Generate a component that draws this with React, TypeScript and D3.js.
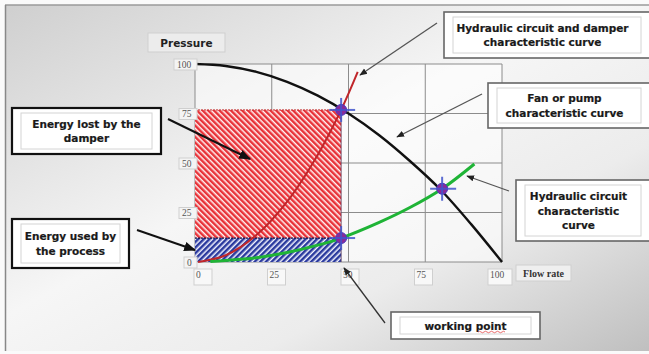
import React from "react";
import * as d3 from "d3";

const W = 649;
const H = 354;

const xTicks = [0, 25, 50, 75, 100];
const yTicks = [0, 25, 50, 75, 100];

// Fan or pump characteristic curve (flow, pressure)
const fanFlow = [0, 10, 20, 30, 40, 50, 60, 70, 80, 90, 100];
const fanPressure = [100, 99, 96, 91, 84, 75, 64, 51, 36.5, 19, 0];

// Hydraulic circuit + damper characteristic curve
const damperFlow = [1, 10, 20, 30, 40, 47.6, 53];
const damperPressure = [0, 3.4, 13.6, 30.5, 54.2, 76.8, 96];

// Hydraulic circuit characteristic curve
const circuitFlow = [5, 20, 30, 40, 47.6, 60, 70, 80.5, 91];
const circuitPressure = [0.2, 2.2, 4.8, 8.5, 12.1, 20, 27.5, 37, 49.5];

// Working points
const pointFlow = [47.6, 47.6, 80.5];
const pointPressure = [76.8, 12.1, 37];

// Energy rectangles
const opFlow = 47.6;
const dampedPressure = 76.8;
const processPressure = 12.1;

type Box = {
  lines: string[];
  x0: number; y0: number; x1: number; y1: number;
  dark: boolean;
};

const boxes: Box[] = [
  { lines: ["Hydraulic circuit and damper", "characteristic curve"], x0: 444, y0: 12, x1: 652, y1: 58, dark: false },
  { lines: ["Fan or pump", "characteristic curve"], x0: 488, y0: 83, x1: 652, y1: 128, dark: false },
  { lines: ["Hydraulic circuit", "characteristic", "curve"], x0: 516, y0: 180, x1: 652, y1: 241, dark: false },
  { lines: ["Energy lost by the", "damper"], x0: 12, y0: 108, x1: 161, y1: 154, dark: true },
  { lines: ["Energy used by", "the process"], x0: 12, y0: 219, x1: 129, y1: 268, dark: true },
  { lines: ["working point"], x0: 391, y0: 312, x1: 540, y1: 339, dark: false },
];

type Arrow = { from: [number, number]; to: [number, number]; color: string };
const arrows: Arrow[] = [
  { from: [437, 23], to: [360, 75], color: "#555" },
  { from: [482, 94], to: [397, 137], color: "#555" },
  { from: [509, 191], to: [467, 176], color: "#555" },
  { from: [168, 119], to: [250, 159], color: "#111" },
  { from: [137, 230], to: [195, 250], color: "#111" },
  { from: [385, 323], to: [344, 268], color: "#333" },
];

export default function App() {
  const x = d3.scaleLinear().domain([0, 100]).range([195, 502]);
  const y = d3.scaleLinear().domain([0, 100]).range([262, 64]);
  const xLabel = d3.scaleLinear().domain([0, 100]).range([194, 488]);

  const line = d3
    .line<[number, number]>()
    .x((d) => x(d[0]))
    .y((d) => y(d[1]))
    .curve(d3.curveCatmullRom.alpha(0.5));

  const fan = line(fanFlow.map((f, i) => [f, fanPressure[i]] as [number, number]));
  const damper = line(damperFlow.map((f, i) => [f, damperPressure[i]] as [number, number]));
  const circuit = line(circuitFlow.map((f, i) => [f, circuitPressure[i]] as [number, number]));

  const font = "'DejaVu Sans', Verdana, sans-serif";
  const serif = "'Liberation Serif', 'Times New Roman', serif";

  return (
    <svg
      width={W}
      height={H}
      style={{ position: "absolute", left: 0, top: 0 }}
      xmlns="http://www.w3.org/2000/svg"
    >
      <defs>
        <linearGradient id="bg" x1="0" y1="0" x2="1" y2="1">
          <stop offset="0" stopColor="#cfcfcf" />
          <stop offset="0.45" stopColor="#f6f6f6" />
          <stop offset="0.7" stopColor="#ececec" />
          <stop offset="1" stopColor="#bfbfbf" />
        </linearGradient>
        <pattern id="redHatch" width="4" height="4" patternUnits="userSpaceOnUse" patternTransform="rotate(-45)">
          <rect width="4" height="4" fill="#fff4f4" />
          <rect width="2.5" height="4" fill="#e83238" />
        </pattern>
        <pattern id="blueHatch" width="4" height="4" patternUnits="userSpaceOnUse" patternTransform="rotate(45)">
          <rect width="4" height="4" fill="#f4f4ff" />
          <rect width="2.5" height="4" fill="#2a3a9e" />
        </pattern>
        <marker id="ahBlack" viewBox="0 0 10 10" refX="9" refY="5" markerWidth="6" markerHeight="6" orient="auto">
          <path d="M0,1 L10,5 L0,9 z" fill="#111" />
        </marker>
        <marker id="ahGray" viewBox="0 0 10 10" refX="9" refY="5" markerWidth="6" markerHeight="6" orient="auto">
          <path d="M0,1 L10,5 L0,9 z" fill="#222" />
        </marker>
      </defs>

      <rect x={0} y={0} width={W} height={H} fill="#fafafa" />
      <rect x={5} y={5} width={W - 4} height={H - 8} fill="url(#bg)" />
      <line x1={5} y1={5} x2={W} y2={5} stroke="#9a9a9a" strokeWidth={1.5} />
      <line x1={5.5} y1={5} x2={5.5} y2={H - 3} stroke="#888" strokeWidth={1.5} />

      {/* plot area */}
      <rect x={x(0)} y={y(100)} width={x(100) - x(0)} height={y(0) - y(100)} fill="#ffffff" opacity={0.55} />

      {/* grid */}
      {xTicks.map((t) => (
        <line key={"gx" + t} x1={x(t)} x2={x(t)} y1={y(0)} y2={y(100)} stroke="#8c8c8c" strokeWidth={1} />
      ))}
      {yTicks.map((t) => (
        <line key={"gy" + t} x1={x(0)} x2={x(100)} y1={y(t)} y2={y(t)} stroke="#8c8c8c" strokeWidth={1} />
      ))}

      {/* energy areas */}
      <rect
        x={x(0)}
        y={y(dampedPressure)}
        width={x(opFlow) - x(0)}
        height={y(processPressure) - y(dampedPressure)}
        fill="url(#redHatch)"
      />
      <line x1={x(0)} x2={x(opFlow)} y1={y(dampedPressure)} y2={y(dampedPressure)} stroke="#c03030" strokeWidth={1} strokeDasharray="2,1" />
      <rect
        x={x(0)}
        y={y(processPressure)}
        width={x(opFlow) - x(0)}
        height={y(0) - y(processPressure)}
        fill="url(#blueHatch)"
      />
      <line x1={x(0)} x2={x(opFlow)} y1={y(processPressure)} y2={y(processPressure)} stroke="#1a1a4a" strokeWidth={1.2} strokeDasharray="2,1" />
      <line x1={x(opFlow)} x2={x(opFlow)} y1={y(dampedPressure)} y2={y(0)} stroke="#553355" strokeWidth={0.8} />

      {/* curves */}
      <path d={fan ?? ""} fill="none" stroke="#111" strokeWidth={2.4} />
      <path d={damper ?? ""} fill="none" stroke="#c0262a" strokeWidth={2} />
      <path d={circuit ?? ""} fill="none" stroke="#1fb436" strokeWidth={3} />

      {/* working points */}
      {pointFlow.map((f, i) => {
        const cx = x(f);
        const cy = y(pointPressure[i]);
        return (
          <g key={"wp" + i}>
            <circle cx={cx} cy={cy} r={5.5} fill="#8a2a98" stroke="#4a3ac0" strokeWidth={1} />
            <line x1={cx - 12} x2={cx + 14} y1={cy} y2={cy} stroke="#4155cc" strokeWidth={2} opacity={0.85} />
            <line x1={cx} x2={cx} y1={cy - 12} y2={cy + 12} stroke="#4155cc" strokeWidth={2} opacity={0.85} />
          </g>
        );
      })}

      {/* y tick labels */}
      {yTicks.map((t) => {
        const label = String(t);
        const w = label.length * 5 + 8;
        return (
          <g key={"yl" + t}>
            <rect x={197 - w} y={y(t) - 5} width={w} height={11} fill="#f4f4f4" stroke="#cfcfcf" strokeWidth={1} />
            <text x={197 - w + 3} y={y(t) + 3.5} fontFamily={serif} fontSize={9.5} fill="#555">
              {label}
            </text>
          </g>
        );
      })}

      {/* x tick labels */}
      {xTicks.map((t) => {
        const label = String(t);
        const w = label.length === 3 ? 24 : 18;
        return (
          <g key={"xl" + t}>
            <rect x={xLabel(t)} y={269} width={w} height={16} fill="#f8f8f8" stroke="#cfcfcf" strokeWidth={1} />
            <text x={xLabel(t) + 2} y={278} fontFamily={serif} fontSize={9.5} fill="#555">
              {label}
            </text>
          </g>
        );
      })}

      {/* axis titles */}
      <rect x={148} y={33} width={77} height={19} fill="#ececec" stroke="#cfcfcf" strokeWidth={1} />
      <text x={186.5} y={46.5} textAnchor="middle" fontFamily={font} fontWeight="bold" fontSize={10.5} fill="#222">
        Pressure
      </text>
      <rect x={516} y={265} width={55} height={16} fill="#efefef" stroke="#cfcfcf" strokeWidth={1} />
      <text x={543.5} y={276.5} textAnchor="middle" fontFamily={serif} fontWeight="bold" fontSize={10} fill="#333">
        Flow rate
      </text>

      {/* arrows */}
      {arrows.map((a, i) => (
        <line
          key={"ar" + i}
          x1={a.from[0]}
          y1={a.from[1]}
          x2={a.to[0]}
          y2={a.to[1]}
          stroke={a.color}
          strokeWidth={a.color === "#111" ? 2 : 1.3}
          markerEnd={a.color === "#111" ? "url(#ahBlack)" : "url(#ahGray)"}
        />
      ))}

      {/* annotation boxes */}
      {boxes.map((b, i) => {
        const cx = (b.x0 + Math.min(b.x1, 641)) / 2;
        const lh = 14.5;
        const n = b.lines.length;
        const cy = (b.y0 + b.y1) / 2;
        return (
          <g key={"bx" + i}>
            <rect
              x={b.x0}
              y={b.y0}
              width={b.x1 - b.x0}
              height={b.y1 - b.y0}
              fill="#ffffff"
              stroke={b.dark ? "#111" : "#666"}
              strokeWidth={b.dark ? 2.2 : 1.6}
            />
            <rect
              x={b.x0 + 9}
              y={b.y0 + 5}
              width={Math.min(b.x1, 650) - b.x0 - 18}
              height={b.y1 - b.y0 - 10}
              fill="#ffffff"
              stroke="#d4d4d4"
              strokeWidth={1}
            />
            {b.lines.map((l, j) => (
              <text
                key={j}
                x={cx}
                y={cy + (j - (n - 1) / 2) * lh + 4}
                textAnchor="middle"
                fontFamily={font}
                fontWeight="bold"
                fontSize={10.5}
                fill="#1a1a1a"
                stroke="#1a1a1a"
                strokeWidth={0.2}
              >
                {l}
              </text>
            ))}
          </g>
        );
      })}
      {/* spell-check squiggle under "point" */}
      <path d="M478,332 q1.5,-1.5 3,0 t3,0 t3,0 t3,0 t3,0 t3,0 t3,0 t3,0 t3,0" fill="none" stroke="#e03030" strokeWidth={0.7} />
    </svg>
  );
}
